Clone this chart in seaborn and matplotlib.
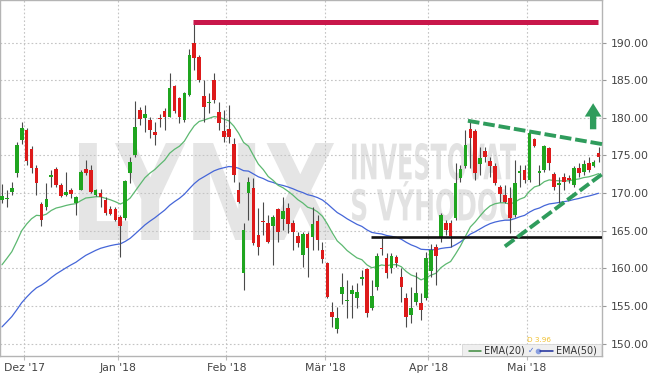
import numpy as np
import pandas as pd
import matplotlib
matplotlib.use("Agg")
import matplotlib.pyplot as plt
import seaborn as sns
from matplotlib.textpath import TextPath
from matplotlib.patches import PathPatch, Rectangle, FancyArrowPatch
from matplotlib.font_manager import FontProperties
from matplotlib.transforms import Affine2D

# ---------------- data (daily candles) ----------------
opens = [169.07, 169.2, 170.14, 172.66, 177.05, 178.37, 175.85, 173.32, 168.54, 168.14,
         172.13, 173.19, 171.07, 169.74, 170.40, 168.67, 170.40, 173.19, 173.06, 169.74,
         170.00, 169.07, 167.88, 167.88, 166.81, 166.68, 172.66, 175.05, 181.03, 179.97,
         179.70, 178.11, 179.97, 180.90, 180.10, 184.22, 182.63, 179.70, 183.03, 189.94,
         188.08, 182.89, 181.96, 185.02, 180.77, 178.24, 178.51, 176.51, 170.40, 159.37,
         170.00, 170.67, 164.42, 166.28, 166.02, 165.62, 167.88, 166.55, 168.01, 166.02,
         164.29, 161.76, 164.55, 164.15, 166.28, 162.43, 160.70, 154.19, 151.93, 156.58,
         155.65, 156.58, 156.05, 158.57, 159.90, 154.72, 157.51, 162.69, 161.36, 160.04,
         161.50, 158.84, 156.05, 153.79, 155.52, 155.38, 156.05, 159.64, 162.83, 164.15,
         166.02, 166.02, 166.68, 171.99, 173.59, 178.51, 178.24, 173.86, 175.58, 174.26,
         173.59, 170.80, 169.74, 169.34, 167.08, 172.66, 173.06, 171.73, 177.18, 172.66,
         173.06, 175.98, 172.53, 171.07, 172.13, 171.99, 171.07, 173.32, 172.79, 173.99,
         173.59, 175.32]
closes = [169.60, 169.4, 170.67, 176.38, 178.64, 174.26, 173.32, 171.33, 166.41, 169.21,
          172.39, 171.07, 169.60, 170.14, 169.87, 169.47, 172.79, 172.66, 170.14, 170.40,
          169.47, 167.34, 167.21, 166.41, 165.62, 171.60, 174.12, 178.77, 179.84, 180.50,
          178.37, 177.71, 179.84, 180.10, 183.96, 180.90, 180.10, 183.29, 188.34, 187.94,
          185.02, 181.43, 182.10, 182.36, 179.30, 177.44, 177.44, 172.39, 168.81, 165.09,
          171.46, 163.36, 162.83, 166.15, 163.49, 166.81, 164.82, 167.61, 165.88, 164.82,
          163.36, 164.55, 162.69, 165.88, 163.76, 161.23, 156.18, 153.52, 153.39, 157.51,
          155.78, 157.11, 156.85, 158.84, 154.06, 156.32, 161.63, 162.56, 159.37, 161.63,
          160.70, 157.51, 153.52, 154.72, 156.71, 154.45, 161.36, 162.43, 161.63, 167.08,
          165.09, 164.29, 171.33, 173.19, 176.38, 177.31, 172.66, 174.65, 174.79, 173.59,
          171.33, 169.87, 168.81, 166.68, 171.33, 172.92, 171.73, 177.98, 176.25, 172.92,
          176.25, 173.99, 170.80, 171.33, 171.46, 171.73, 173.32, 172.66, 173.86, 173.06,
          174.12, 174.79]
highs = [171.20, 170.4, 171.46, 176.78, 179.44, 178.64, 176.25, 173.72, 168.81, 171.33,
         173.06, 173.46, 171.33, 172.79, 170.67, 169.60, 173.06, 174.39, 173.72, 170.53,
         170.53, 169.47, 168.27, 168.14, 167.08, 171.73, 174.79, 182.23, 181.43, 181.70,
         180.10, 179.44, 180.50, 181.30, 185.95, 184.35, 182.76, 183.42, 189.14, 192.73,
         188.34, 185.02, 183.29, 185.95, 182.10, 181.03, 181.70, 177.31, 171.46, 166.02,
         172.13, 171.99, 168.01, 168.81, 167.08, 167.08, 168.01, 169.47, 168.67, 166.41,
         164.82, 164.82, 164.82, 168.14, 167.08, 163.49, 160.83, 155.52, 154.85, 159.37,
         158.44, 157.78, 158.04, 159.77, 160.04, 158.44, 162.03, 164.02, 162.03, 162.03,
         161.76, 160.04, 156.71, 157.51, 159.51, 156.71, 162.16, 163.23, 163.23, 167.34,
         166.41, 166.41, 173.99, 173.72, 178.37, 179.57, 178.51, 176.12, 176.12, 174.79,
         173.99, 171.07, 171.07, 170.80, 174.39, 173.72, 173.72, 178.11, 177.31, 173.72,
         176.38, 176.12, 172.79, 172.13, 172.66, 172.39, 173.59, 173.99, 174.39, 174.79,
         174.39, 176.12]
lows = [168.67, 168.1, 169.74, 172.13, 176.51, 173.72, 172.66, 169.74, 165.62, 167.74,
        170.80, 170.80, 169.47, 169.60, 169.34, 167.08, 170.40, 172.39, 170.00, 169.60,
        168.14, 167.08, 167.08, 166.28, 161.50, 166.41, 171.33, 174.79, 179.04, 178.11,
        177.31, 176.38, 178.77, 178.37, 180.10, 180.63, 179.30, 179.44, 182.89, 186.35,
        184.75, 179.44, 180.63, 181.96, 178.37, 176.78, 176.65, 171.46, 168.67, 157.11,
        166.41, 163.09, 161.76, 164.42, 163.36, 160.43, 163.49, 165.09, 164.69, 162.43,
        162.83, 160.17, 158.84, 162.43, 162.43, 160.70, 156.05, 152.19, 151.40, 155.25,
        153.39, 153.39, 154.72, 157.78, 153.52, 154.45, 157.11, 161.76, 158.71, 159.37,
        160.17, 155.52, 152.19, 152.73, 155.12, 153.12, 155.78, 158.84, 157.78, 163.49,
        164.42, 162.83, 166.41, 171.46, 173.32, 173.32, 171.73, 172.39, 174.12, 172.13,
        171.07, 168.81, 168.67, 164.69, 166.81, 170.80, 171.33, 171.46, 176.12, 171.07,
        172.79, 173.06, 170.40, 168.67, 170.40, 171.33, 170.80, 172.13, 172.39, 172.79,
        173.46, 174.12]

# EMA values just before the first visible candle
ema20_seed = 159.5
ema50_seed = 151.5

month_labels = ["Dez '17", "Jan '18", "Feb '18", "Mär '18", "Apr '18", "Mai '18"]
month_first_idx = [5, 24, 46, 66, 87, 107]
y_ticks = [150, 155, 160, 165, 170, 175, 180, 185, 190]

# drawn annotations (index, price)
resistance = dict(x=[38.7, 120.9], y=[192.7, 192.7])
support = dict(x=[74.8, 121.7], y=[164.1, 164.1])
down_trend = dict(x=[94.5, 121.7], y=[179.6, 176.5])
up_trend = dict(x=[102.0, 121.7], y=[162.9, 172.5])
arrow_pts = dict(x=119.9, y0=178.1, y1=182.3)


def ema(values, span, seed):
    a = 2.0 / (span + 1)
    out, prev = [], seed
    for v in values:
        prev = a * v + (1 - a) * prev
        out.append(prev)
    return np.array(out)


df = pd.DataFrame(dict(open=opens, high=highs, low=lows, close=closes))
df["idx"] = np.arange(len(df))
df["ema20"] = ema(df["close"], 20, ema20_seed)
df["ema50"] = ema(df["close"], 50, ema50_seed)

# ---------------- style ----------------
sns.set_theme(style="white")
plt.rcParams["font.family"] = ["DejaVu Sans"]

W, H = 649, 376
fig = plt.figure(figsize=(W / 100, H / 100), dpi=100)
ax_l, ax_r, ax_t, ax_b = 0, 602, 0, 356
ax = fig.add_axes([ax_l / W, (H - ax_b) / H, (ax_r - ax_l) / W, (ax_b - ax_t) / H])
ax.set_facecolor("white")

GREEN = "#1fa51f"
RED = "#dd1a1a"
WICK = "#4a4a4a"
EMA20_C = "#5cb870"
EMA50_C = "#4566d8"
TREND_G = "#2f9c5c"

ax.set_xlim(-0.4, 121.7)
ax.set_ylim(148.34, 195.65)


def px2ax(x, y):
    return ((x - ax_l) / (ax_r - ax_l), (ax_b - y) / (ax_b - ax_t))


# watermark
fp = FontProperties(family="DejaVu Sans", weight="bold")


def watermark(s, x0, y0, x1, y1, color):
    tp = TextPath((0, 0), s, size=100, prop=fp)
    bb = tp.get_extents()
    sx = (x1 - x0) / bb.width
    sy = (y1 - y0) / bb.height
    tr = Affine2D().translate(-bb.x0, -bb.y0).scale(sx, sy).translate(x0, H - y1)
    patch = PathPatch(tp, transform=tr, facecolor=color, edgecolor="none", zorder=0.5)
    ax.add_patch(patch)


watermark("LYNX", 79, 143, 335, 240, "#e5e5e5")
watermark("INVESTOVAT", 352, 143, 516, 180, "#e2e2e2")
watermark("S VÝHODOU", 352, 181, 516, 221, "#e2e2e2")

# grid
ax.set_yticks(y_ticks)
ax.set_xticks([i - 0.5 for i in month_first_idx])
ax.set_xticklabels(month_labels)
ax.yaxis.set_major_formatter(matplotlib.ticker.FormatStrFormatter("%.2f"))
ax.grid(True, linestyle=(0, (1.5, 2)), color="#c4c4c4", linewidth=0.8, zorder=0.2)
ax.set_axisbelow(True)
ax.yaxis.tick_right()
ax.tick_params(axis="y", which="both", right=True, length=3, width=0.8, color="#999999",
               labelsize=7.8, labelcolor="#444444", pad=3)
ax.tick_params(axis="x", which="both", bottom=True, length=3, width=0.8, color="#bbbbbb",
               labelsize=7.8, labelcolor="#444444", pad=2)
for sp in ax.spines.values():
    sp.set_color("#b4b4b4")
    sp.set_linewidth(1.0)

# EMA lines (seaborn)
sns.lineplot(data=df, x="idx", y="ema50", ax=ax, color=EMA50_C, linewidth=0.9, zorder=2)
sns.lineplot(data=df, x="idx", y="ema20", ax=ax, color=EMA20_C, linewidth=0.9, zorder=2)
ax.set_xlabel("")
ax.set_ylabel("")

# candles
up = df["close"] >= df["open"]
colors = np.where(up, GREEN, RED)
ax.vlines(df["idx"], df["low"], df["high"], color=WICK, linewidth=0.8, zorder=3)
body_bottom = np.minimum(df["open"], df["close"])
body_h = np.maximum(np.abs(df["close"] - df["open"]), 0.14)
ax.bar(df["idx"], body_h, bottom=body_bottom, width=0.74, color=colors,
       edgecolor="none", linewidth=0, zorder=4)

# annotations
ax.plot(resistance["x"], resistance["y"], color="#c8174a", linewidth=3.6,
        solid_capstyle="butt", zorder=5)
ax.plot(support["x"], support["y"], color="#111111", linewidth=1.9,
        solid_capstyle="butt", zorder=5)
for tl in (down_trend, up_trend):
    ax.plot(tl["x"], tl["y"], color=TREND_G, linewidth=2.8, dashes=(3.0, 1.0),
            solid_capstyle="butt", dash_capstyle="butt", zorder=5, clip_on=False)
arr = FancyArrowPatch((arrow_pts["x"], arrow_pts["y0"]), (arrow_pts["x"], arrow_pts["y1"]),
                      arrowstyle="simple,head_length=0.8,head_width=1.0,tail_width=0.38",
                      mutation_scale=12, color=TREND_G, zorder=6, linewidth=0)
ax.add_patch(arr)

# legend box (bottom right)
lx0, ly0 = px2ax(462, 356)
lx1, ly1 = px2ax(601, 344)
ax.add_patch(Rectangle((lx0, ly0), lx1 - lx0, ly1 - ly0, transform=ax.transAxes,
                       facecolor="#efefef", edgecolor="#d6d6d6", linewidth=0.6, zorder=7))
yc = px2ax(0, 350.5)[1]
ax.plot([px2ax(469, 0)[0], px2ax(481, 0)[0]], [yc, yc], transform=ax.transAxes,
        color="#3d8a3d", linewidth=1.1, zorder=8)
ax.text(px2ax(484, 0)[0], yc, "EMA(20)", transform=ax.transAxes, fontsize=6.9,
        color="#333333", va="center", ha="left", zorder=8)
ax.text(px2ax(528, 0)[0], yc, "✓", transform=ax.transAxes, fontsize=5.5,
        color="#4a6ad0", va="center", ha="left", zorder=8)
ax.plot([px2ax(538, 0)[0]], [yc], transform=ax.transAxes, marker="o", markersize=3,
        color="#8aa0e0", zorder=8)
ax.plot([px2ax(540, 0)[0], px2ax(553, 0)[0]], [yc, yc], transform=ax.transAxes,
        color="#1a2a9a", linewidth=1.1, zorder=8)
ax.text(px2ax(556, 0)[0], yc, "EMA(50)", transform=ax.transAxes, fontsize=6.9,
        color="#333333", va="center", ha="left", zorder=8)
dx, dy = px2ax(527, 340)
ax.text(dx, dy, "D 3.96", transform=ax.transAxes, fontsize=5.2, color="#f0c030",
        va="center", ha="left", zorder=8)

fig.savefig("out.png", dpi=100, facecolor="white")
